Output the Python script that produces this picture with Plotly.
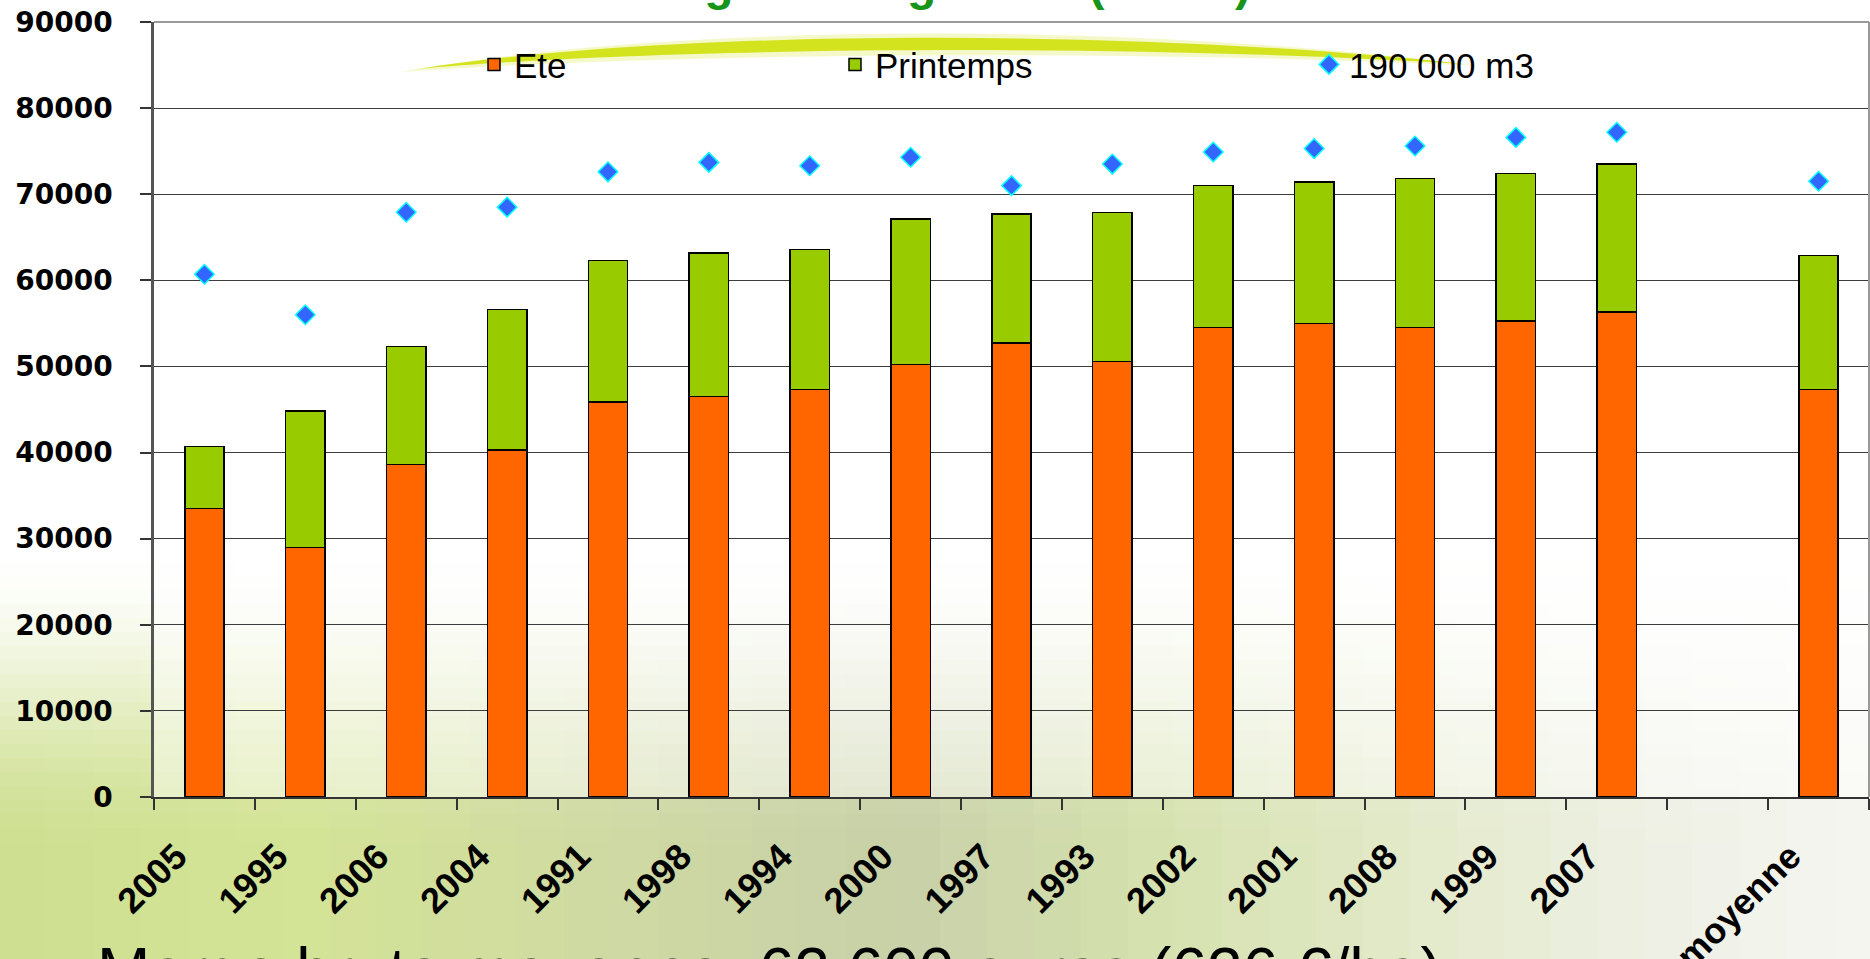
import plotly.graph_objects as go

# ---------------- data ----------------
categories = ["2005", "1995", "2006", "2004", "1991", "1998", "1994", "2000",
              "1997", "1993", "2002", "2001", "2008", "1999", "2007", " ", "moyenne"]
ete = [33500, 29000, 38600, 40300, 45900, 46500, 47300, 50200,
       52700, 50600, 54500, 55000, 54500, 55300, 56300, None, 47300]
printemps = [7200, 15800, 13700, 16300, 16400, 16700, 16300, 16900,
             15000, 17300, 16500, 16400, 17300, 17100, 17200, None, 15600]
scenario_190000 = [60700, 56000, 67900, 68500, 72600, 73700, 73300, 74300,
                   71000, 73500, 74900, 75300, 75600, 76600, 77200, None, 71500]
y_ticks = [0, 10000, 20000, 30000, 40000, 50000, 60000, 70000, 80000, 90000]
y_tick_labels = [str(v) for v in y_ticks]

title_text = "Marge brute globale (euros)"
footer_text = "Marge brute moyenne: 62 600 euros (626 €/ha)"

# ---------------- geometry helpers (pixels -> paper) ----------------
W, H = 1870, 959
PL, PR, PT, PB = 154, 1869, 22, 797


def fx(px):
    return (px - PL) / (PR - PL)


def fy(py):
    return (PB - py) / (PB - PT)


def lerp(a, b, t):
    return a + (b - a) * t


def smooth(t):
    t = max(0.0, min(1.0, t))
    return t * t * (3 - 2 * t)


# background colour stops along x (decorative photo-like wash)
bg_stops = [(0, (206, 223, 146)), (300, (212, 228, 150)), (600, (207, 218, 163)),
            (900, (200, 208, 168)), (1150, (213, 225, 174)), (1400, (226, 233, 200)),
            (1650, (238, 240, 228)), (1870, (245, 245, 240))]


def base_col(x):
    for (x0, c0), (x1, c1) in zip(bg_stops[:-1], bg_stops[1:]):
        if x0 <= x <= x1:
            t = (x - x0) / (x1 - x0)
            return tuple(lerp(a, b, t) for a, b in zip(c0, c1))
    return bg_stops[-1][1]


shapes = []
col_w = 47
row_h = 14
y_top = 520
x = 0
while x < W:
    y = y_top
    while y < H:
        xc = x + col_w / 2
        yc = y + row_h / 2
        w = smooth((yc - 545) / (850 - 545))
        c = base_col(xc)
        r, g, b = (int(round(lerp(255, ci, w))) for ci in c)
        shapes.append(dict(type="rect", xref="paper", yref="paper",
                           x0=fx(x), x1=fx(min(x + col_w + 1, W + 2)),
                           y0=fy(min(y + row_h + 1, H + 2)), y1=fy(y),
                           fillcolor=f"rgb({r},{g},{b})", line=dict(width=0),
                           layer="below"))
        y += row_h
    x += col_w

# semi-transparent white plot area
shapes.append(dict(type="rect", xref="paper", yref="paper", x0=0, x1=1, y0=0, y1=1,
                   fillcolor="rgba(255,255,255,0.45)", line=dict(width=0), layer="below"))


# decorative swoosh behind legend
def swoosh_path(pts_top, pts_bot):
    def P(p):
        return f"{fx(p[0]):.5f},{fy(p[1]):.5f}"
    a, b, c, d = pts_top
    e, f, g, h = pts_bot
    return (f"M{P(a)} C{P(b)} {P(c)} {P(d)} "
            f"C{P(g)} {P(f)} {P(e)} Z")


shapes.append(dict(type="path", xref="paper", yref="paper",
                   path=swoosh_path([(400, 72), (650, 26), (1100, 18), (1480, 66)],
                                    [(400, 72), (650, 54), (1100, 48), (1480, 66)]),
                   fillcolor="rgba(215,228,40,0.25)", line=dict(width=0), layer="below"))
shapes.append(dict(type="path", xref="paper", yref="paper",
                   path=swoosh_path([(417, 69), (650, 32), (1100, 25), (1465, 64)],
                                    [(417, 69), (650, 48), (1100, 42), (1465, 64)]),
                   fillcolor="rgba(207,224,10,0.9)", line=dict(width=0), layer="below"))

# plot frame (top / right)
shapes.append(dict(type="line", xref="paper", yref="paper", x0=0, x1=1, y0=1, y1=1,
                   line=dict(color="#9a9a9a", width=2), layer="above"))
shapes.append(dict(type="line", xref="paper", yref="paper", x0=1, x1=1, y0=0, y1=1,
                   line=dict(color="#9a9a9a", width=2), layer="above"))

# ---------------- figure ----------------
fig = go.Figure()

fig.add_trace(go.Bar(
    x=categories, y=ete, name="Ete", legend="legend",
    marker=dict(color="#FF6600", line=dict(color="#000000", width=1.5)),
))
fig.add_trace(go.Bar(
    x=categories, y=printemps, name="Printemps", legend="legend2",
    marker=dict(color="#99CC00", line=dict(color="#000000", width=1.5)),
))
fig.add_trace(go.Scatter(
    x=categories, y=scenario_190000, name="190 000 m3", legend="legend3",
    mode="markers",
    marker=dict(symbol="diamond", size=15, color="#3366FF",
                line=dict(color="#00FFFF", width=1.5)),
))

legend_common = dict(orientation="h", yanchor="middle", y=0.945, xanchor="left",
                     bgcolor="rgba(0,0,0,0)", borderwidth=0,
                     font=dict(family="Liberation Sans, Arial", size=35, color="#000000"))

annotations = [
    dict(text=title_text, xref="paper", yref="paper", x=fx(935), y=fy(12),
         xanchor="center", yanchor="bottom", showarrow=False,
         font=dict(family="Liberation Sans, Arial", size=48, color="#17941a", weight="bold")),
    dict(text=footer_text, xref="paper", yref="paper", x=fx(95), y=fy(933),
         xanchor="left", yanchor="top", showarrow=False,
         font=dict(family="Liberation Sans, Arial", size=64, color="#000000")),
]

fig.update_layout(
    width=W, height=H,
    margin=dict(l=PL, r=W - PR, t=PT, b=H - PB, pad=0),
    paper_bgcolor="#FFFFFF",
    plot_bgcolor="rgba(0,0,0,0)",
    barmode="stack",
    bargap=0.61,
    shapes=shapes,
    annotations=annotations,
    legend=dict(legend_common, x=fx(474)),
    legend2=dict(legend_common, x=fx(835)),
    legend3=dict(legend_common, x=fx(1309)),
    xaxis=dict(
        type="category", categoryorder="array", categoryarray=categories,
        range=[-0.5, len(categories) - 0.5],
        tickson="boundaries", ticks="outside", ticklen=11, tickwidth=1.5, tickcolor="#333333",
        showgrid=False, showline=True, linecolor="#333333", linewidth=2,
        tickangle=-45, ticklabelstandoff=22, ticklabelshift=-28,
        tickfont=dict(family="Liberation Sans, Arial", size=36, color="#000000", weight="bold"),
        automargin=False, fixedrange=True, zeroline=False,
    ),
    yaxis=dict(
        range=[0, 90000], tickvals=y_ticks, ticktext=y_tick_labels, tickmode="array",
        ticks="outside", ticklen=11, tickwidth=1.5, tickcolor="#333333",
        showgrid=True, gridcolor="#3c3c3c", gridwidth=1,
        showline=True, linecolor="#555555", linewidth=2.5,
        ticklabelstandoff=22,
        tickfont=dict(family="DejaVu Sans", size=28, color="#000000", weight="bold"),
        automargin=False, fixedrange=True, zeroline=False,
    ),
    showlegend=True,
)

fig.write_html("out.html",
               config={"displayModeBar": False},
               post_script="document.body.style.margin='0px';"
                           "document.body.style.overflow='hidden';")
